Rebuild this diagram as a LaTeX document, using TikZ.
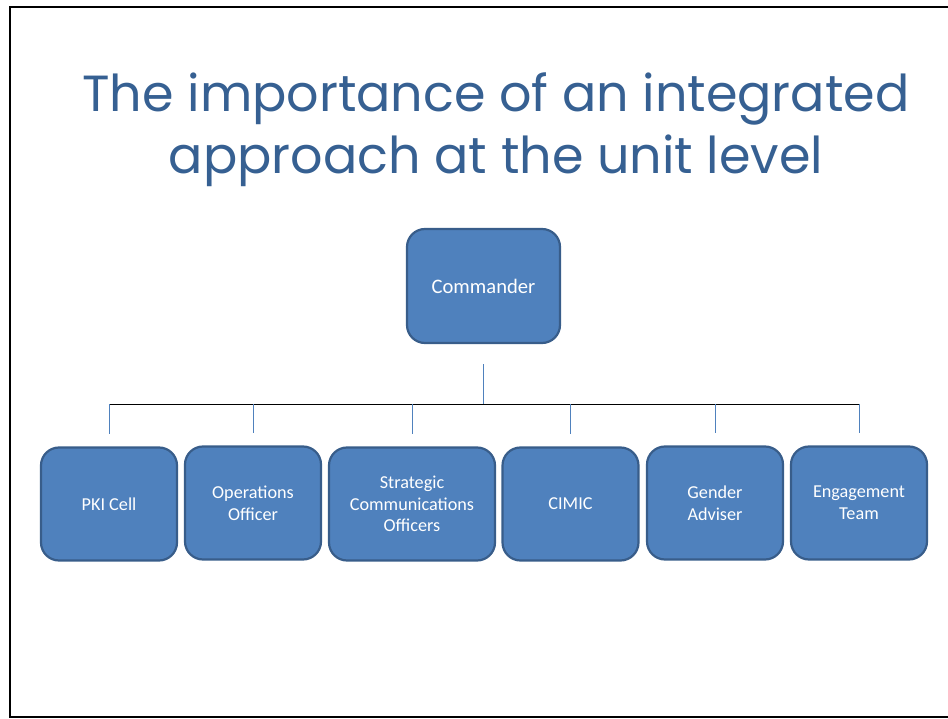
\documentclass[tikz,border=0pt]{standalone}
\usepackage{fontspec}
\setmainfont{Carlito}
\newfontfamily\titlefont{Poppins}
\usetikzlibrary{calc}
\definecolor{titleblue}{RGB}{54,96,146}
\definecolor{boxfill}{RGB}{79,129,189}
\definecolor{boxline}{RGB}{56,93,138}
\definecolor{linkblue}{RGB}{79,129,189}
\tikzset{
  orgbox/.style={draw=boxline, fill=boxfill, line width=2.2pt, rounded corners=18pt,
    minimum width=136pt, minimum height=113pt, inner sep=0pt, text=white,
    align=center, font=\fontsize{18.2}{21.8}\selectfont},
  topbox/.style={orgbox, minimum width=153pt, minimum height=114pt,
    font=\fontsize{20.6}{24}\selectfont},
  link/.style={draw=linkblue, line width=1pt},
  busline/.style={draw=black, line width=1pt},
  frameline/.style={draw=black, line width=2pt}
}
\begin{document}
\begin{tikzpicture}[x=1pt,y=-1pt]
\useasboundingbox (0,0) rectangle (948,719);
\draw[frameline] (948,7) -- (10,7) -- (10,717) -- (948,717);
\node[text=titleblue, align=center, font=\titlefont\fontsize{50.8}{62}\selectfont] (title) at (496,130)
  {The importance of an integrated\\approach at the unit level};
\node[topbox] (cmd) at (483.5,286) {Commander};
\node[orgbox] (c1) at (109,504) {PKI Cell};
\node[orgbox] (c2) at (253,503) {Operations\\Officer};
\node[orgbox, minimum width=166pt] (c3) at (412,504) {Strategic\\Communications\\Officers};
\node[orgbox] (c4) at (570.5,504) {CIMIC};
\node[orgbox] (c5) at (715,503) {Gender\\Adviser};
\node[orgbox] (c6) at (859,503) {Engagement\\Team};
\coordinate (ctop) at ($(cmd.south)+(0,20)$);
\coordinate (cbus) at (483.5,404);
\draw[link] (ctop) -- (cbus);
\foreach \i in {1,...,6} {
  \coordinate (d\i) at ($(c\i.north |- cbus)$);
  \coordinate (e\i) at ($(c\i.north)+(0,-12)$);
}
\draw[busline] (d1) -- (d6);
\foreach \i in {1,...,6} {
  \draw[link] (d\i) -- (e\i);
}
\end{tikzpicture}
\end{document}
